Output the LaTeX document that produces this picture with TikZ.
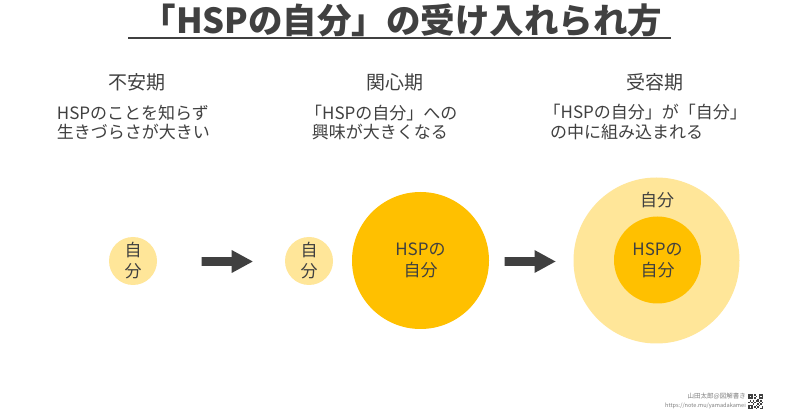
\documentclass[tikz,border=0pt]{standalone}
\usepackage{fontspec}
\setmainfont{Noto Sans CJK JP}
\definecolor{txt}{HTML}{404040}
\definecolor{lightY}{HTML}{FFE699}
\definecolor{deepY}{HTML}{FFC000}
\definecolor{credit}{HTML}{7F7F7F}
\tikzset{
  blockarrow/.pic={\fill[txt] (0,-4.3) -- (30,-4.3) -- (30,-11.5) -- (51,0) -- (30,11.5) -- (30,4.3) -- (0,4.3) -- cycle;},
}
\begin{document}
\begin{tikzpicture}[x=1pt,y=-1pt,
  every node/.style={inner sep=0pt, text=txt},
  heading/.style={font=\fontsize{19}{22}\selectfont},
  desc/.style={font=\fontsize{17}{19}\selectfont, anchor=west},
  circtext/.style={font=\fontsize{17}{21}\selectfont, align=center},
  lightcirc/.style={circle, fill=lightY, draw=none, circtext},
  deepcirc/.style={circle, fill=deepY, draw=none, circtext},
  qr/.style={fill=txt}]
\fill[white] (0,0) rectangle (800,419);
\useasboundingbox (0,0) rectangle (800,419);
% title
\node[font=\fontsize{34.5}{38}\selectfont\bfseries] (title) at (402,20.5) {「HSPの自分」の受け入れられ方};
\draw[txt, line width=2pt] (128.3,38.3) -- (670.7,38.3);
% headings
\node[heading] (h1) at (136.7,82) {不安期};
\node[heading] (h2) at (394.5,82) {関心期};
\node[heading] (h3) at (655,82) {受容期};
% descriptions
\node[desc] (d1a) at (56.7,113) {HSPのことを知らず};
\node[desc] (d1b) at (56.7,131.7) {生きづらさが大きい};
\node[desc] (d2a) at (305,113) {「HSPの自分」への};
\node[desc] (d2b) at (311.7,131.7) {興味が大きくなる};
\node[desc] (d3a) at (543.5,112) {「HSPの自分」が「自分」};
\node[desc] (d3b) at (550,132) {の中に組み込まれる};
% circles
\node[lightcirc, minimum size=48pt] (c1) at (133,261) {自\\分};
\pic at (201.7,261.5) {blockarrow};
\node[lightcirc, minimum size=48pt] (c2) at (309,261) {自\\分};
\node[deepcirc, minimum size=137pt] (c3) at (420.5,260.5) {HSPの\\自分};
\pic at (504.5,261.5) {blockarrow};
\node[lightcirc, minimum size=166pt] (c4) at (656.5,260.5) {};
\node[deepcirc, minimum size=87pt] (c5) at (657.5,260) {HSPの\\自分};
\node[circtext] (c4t) at (657,200) {自分};
% credit
\node[anchor=east, text=credit, font=\fontsize{6.5}{7}\selectfont] (cr1) at (746,396) {山田太郎@図解書き};
\node[anchor=east, text=credit, font=\fontsize{5.6}{7}\selectfont] (cr2) at (746,405.5) {https://note.mu/yamadakamei};
% QR-like mark
\begin{scope}[shift={(748,394)}]
  \foreach \x/\y in {0/0,1/0,2/0,0/1,2/1,0/2,1/2,2/2, 7/0,8/0,9/0,7/1,9/1,7/2,8/2,9/2, 0/7,1/7,2/7,0/8,2/8,0/9,1/9,2/9,
    4/0,5/1,4/2,6/3,3/4,5/4,8/4,1/4,4/5,7/5,9/5,2/5,3/6,6/6,8/6,5/7,7/7,4/8,6/8,9/8,5/9,8/9,9/9,6/4,0/5}
    \fill[txt] (1.5*\x,1.5*\y) rectangle ++(1.5,1.5);
\end{scope}
\end{tikzpicture}
\end{document}
